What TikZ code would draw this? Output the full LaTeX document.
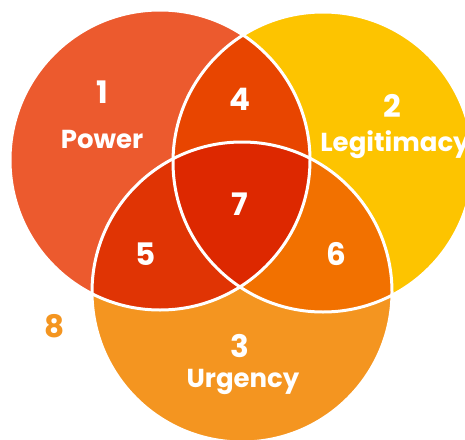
\documentclass[tikz,border=0pt]{standalone}
\usepackage{fontspec}
\setmainfont{Poppins}
\definecolor{powerc}{HTML}{EC5A2E}
\definecolor{legitc}{HTML}{FDC400}
\definecolor{urgenc}{HTML}{F49520}
\definecolor{plc}{HTML}{E84500}
\definecolor{puc}{HTML}{E03404}
\definecolor{luc}{HTML}{F27100}
\definecolor{allc}{HTML}{DD2800}
\tikzset{
  num/.style={text=white,anchor=base,inner sep=0pt,font=\bfseries\fontsize{31}{31}\selectfont},
  word/.style={text=white,anchor=base,inner sep=0pt,font=\bfseries\fontsize{26}{26}\selectfont},
  rim/.style={draw=white,line width=3pt}
}
\begin{document}
\begin{tikzpicture}[x=1pt,y=-1pt]
  \useasboundingbox (0,0) rectangle (465,439);
  \clip (0,0) rectangle (465,439);
  \coordinate (P) at (160,160);
  \coordinate (L) at (323,162);
  \coordinate (U) at (242,292);
  % the three sets
  \fill[powerc] (P) circle[radius=150pt];
  \fill[legitc] (L) circle[radius=150pt];
  \fill[urgenc] (U) circle[radius=150pt];
  % overlaps
  \begin{scope}
    \clip (P) circle[radius=150pt];
    \fill[plc] (L) circle[radius=150pt];
    \fill[puc] (U) circle[radius=150pt];
  \end{scope}
  \begin{scope}
    \clip (L) circle[radius=150pt];
    \fill[luc] (U) circle[radius=150pt];
  \end{scope}
  \begin{scope}
    \clip (P) circle[radius=150pt];
    \clip (L) circle[radius=150pt];
    \fill[allc] (U) circle[radius=150pt];
  \end{scope}
  \foreach \c in {P,L,U}
    \draw[rim] (\c) circle[radius=150pt];
  % labels
  \node[num] (n1) at (102,103) {1};
  \node[word] (power) at (102,148) {Power};
  \node[num] (n2) at (392,117) {2};
  \node[word] (legit) at (395,151) {Legitimacy};
  \node[num] (n3) at (240,357) {3};
  \node[word] (urgency) at (243,387) {Urgency};
  \node[num] (n4) at (240,110) {4};
  \node[num] (n5) at (146,265) {5};
  \node[num] (n6) at (336,265) {6};
  \node[num] (n7) at (240,215) {7};
  \node[num,text=urgenc] (n8) at (55,337) {8};
\end{tikzpicture}
\end{document}
